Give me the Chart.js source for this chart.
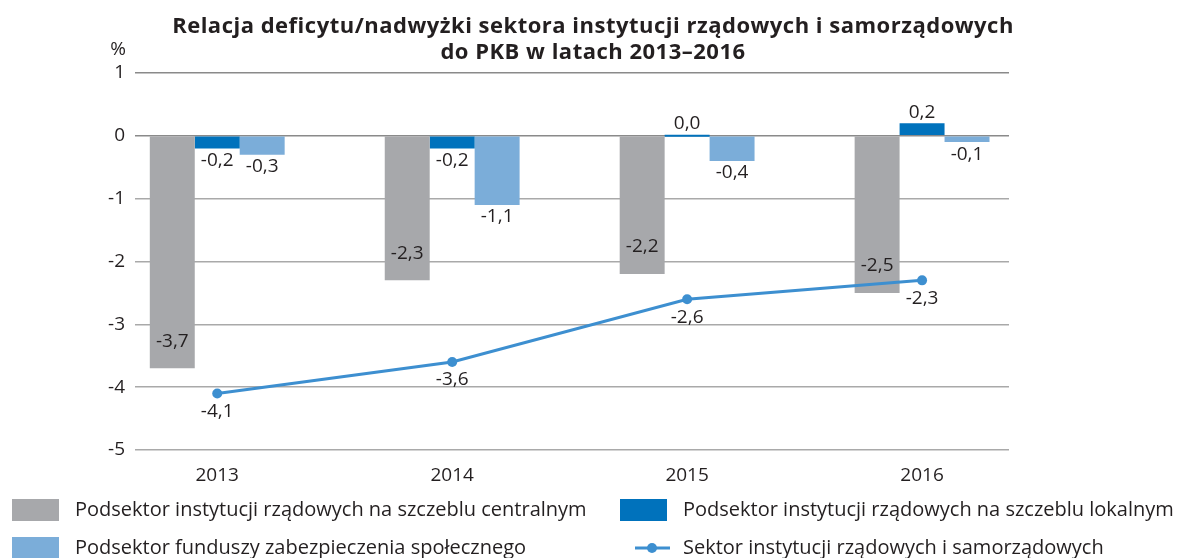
<!DOCTYPE html>
<html lang="pl">
<head>
<meta charset="UTF-8">
<title>Relacja deficytu/nadwyżki do PKB</title>
<script src="https://cdn.jsdelivr.net/npm/chart.js"></script>
<style>
  html, body { margin: 0; padding: 0; background: #fff; }
</style>
</head>
<body>
<canvas id="chart" width="1185" height="558"></canvas>
<script>
  // dane (% PKB)
  const years = ['2013', '2014', '2015', '2016'];
  const centralny = [-3.7, -2.3, -2.2, -2.5];
  const lokalny = [-0.2, -0.2, 0.0, 0.2];
  const zabezpieczenie = [-0.3, -1.1, -0.4, -0.1];
  const sektor = [-4.1, -3.6, -2.6, -2.3];

  const seriesNames = [
    'Podsektor instytucji rządowych na szczeblu centralnym',
    'Podsektor instytucji rządowych na szczeblu lokalnym',
    'Podsektor funduszy zabezpieczenia społecznego',
    'Sektor instytucji rządowych i samorządowych'
  ];
  const titleLines = [
    'Relacja deficytu/nadwyżki sektora instytucji rządowych i samorządowych',
    'do PKB w latach 2013–2016'
  ];

  const FONT = '"Open Sans", "Noto Sans", sans-serif';
  const TEXT = '#231f20';
  const colors = ['#a7a8ab', '#0072bc', '#7badd9', '#3d8fd0'];

  const toXY = arr => arr.map((v, i) => ({ x: i, y: v }));
  const fmt = v => v.toFixed(1).replace('.', ',');

  // tytuł i znak %
  const titlePlugin = {
    id: 'titleText',
    afterDraw(chart) {
      const ctx = chart.ctx;
      ctx.save();
      ctx.fillStyle = TEXT;
      ctx.textAlign = 'center';
      ctx.textBaseline = 'middle';
      ctx.font = 'bold 22px ' + FONT;
      ctx.letterSpacing = '0.5px';
      ctx.fillText(titleLines[0], 593, 27);
      ctx.fillText(titleLines[1], 593, 53);
      ctx.letterSpacing = '0px';
      ctx.font = '19px ' + FONT;
      ctx.textAlign = 'right';
      ctx.fillText('%', chart.chartArea.left - 9, 50);
      ctx.restore();
    }
  };

  // etykiety wartości
  const labelsPlugin = {
    id: 'valueLabels',
    afterDatasetsDraw(chart) {
      const ctx = chart.ctx;
      ctx.save();
      ctx.font = '19px ' + FONT;
      ctx.fillStyle = TEXT;
      ctx.textAlign = 'center';
      ctx.textBaseline = 'middle';
      chart.data.datasets.forEach((ds, i) => {
        const meta = chart.getDatasetMeta(i);
        meta.data.forEach((el, j) => {
          const v = ds.data[j].y;
          let y;
          if (ds.type === 'line') y = el.y + 18;
          else if (i === 0) y = el.y - 27;
          else if (v < 0) y = el.y + 12;
          else y = Math.min(el.y, el.base) - 11;
          ctx.fillText(fmt(v), el.x, y);
        });
      });
      ctx.restore();
    }
  };

  // legenda w dwóch kolumnach
  const legendPlugin = {
    id: 'twoColLegend',
    afterDraw(chart) {
      const ctx = chart.ctx;
      const cols = [12, 620];
      const rows = [510, 548];
      // wiersz 1: centralny, lokalny; wiersz 2: zabezpieczenie, sektor
      const items = [
        { ds: 0, col: 0, row: 0 },
        { ds: 1, col: 1, row: 0 },
        { ds: 2, col: 0, row: 1 },
        { ds: 3, col: 1, row: 1 }
      ];
      ctx.save();
      ctx.font = '20px ' + FONT;
      ctx.textBaseline = 'middle';
      ctx.textAlign = 'left';
      items.forEach(it => {
        const ds = chart.data.datasets[it.ds];
        const x = cols[it.col];
        const y = rows[it.row];
        if (ds.type === 'line') {
          ctx.strokeStyle = ds.borderColor;
          ctx.lineWidth = 3;
          ctx.beginPath();
          ctx.moveTo(x + 15, y);
          ctx.lineTo(x + 50, y);
          ctx.stroke();
          ctx.fillStyle = ds.borderColor;
          ctx.beginPath();
          ctx.arc(x + 32, y, 5, 0, Math.PI * 2);
          ctx.fill();
        } else {
          ctx.fillStyle = ds.backgroundColor;
          ctx.fillRect(x, y - 11, 47, 22);
        }
        ctx.fillStyle = TEXT;
        ctx.fillText(ds.label, x + 63, y);
      });
      ctx.restore();
    }
  };

  const barCommon = {
    type: 'bar',
    categoryPercentage: 0.574,
    barPercentage: 1,
    order: 2
  };

  new Chart(document.getElementById('chart'), {
    data: {
      datasets: [
        { ...barCommon, label: seriesNames[0], data: toXY(centralny), backgroundColor: colors[0] },
        { ...barCommon, label: seriesNames[1], data: toXY(lokalny), backgroundColor: colors[1], minBarLength: 2 },
        { ...barCommon, label: seriesNames[2], data: toXY(zabezpieczenie), backgroundColor: colors[2] },
        {
          type: 'line',
          label: seriesNames[3],
          data: toXY(sektor),
          borderColor: colors[3],
          backgroundColor: colors[3],
          borderWidth: 3,
          pointRadius: 5,
          pointBackgroundColor: colors[3],
          pointBorderWidth: 0,
          tension: 0,
          order: 1
        }
      ]
    },
    options: {
      responsive: false,
      animation: false,
      layout: { padding: { top: 73, right: 176, bottom: 0, left: 0 } },
      plugins: {
        legend: { display: false },
        title: { display: false },
        tooltip: { enabled: false }
      },
      scales: {
        x: {
          type: 'linear',
          min: -0.35,
          max: 3.37,
          offset: false,
          afterBuildTicks: axis => { axis.ticks = years.map((_, i) => ({ value: i })); },
          afterFit: axis => { axis.height = 108; },
          grid: { display: false, offset: false },
          border: { display: false },
          ticks: {
            padding: 6,
            color: TEXT,
            font: { family: FONT, size: 19 },
            callback: v => years[v]
          }
        },
        y: {
          min: -5,
          max: 1,
          afterFit: axis => { axis.width = 135; },
          border: { display: false },
          grid: {
            color: ctx => (ctx.tick && (ctx.tick.value === 1 || ctx.tick.value === 0)) ? '#8a8a8a' : '#a9a9a9',
            lineWidth: 1.5,
            drawTicks: false
          },
          ticks: {
            stepSize: 1,
            padding: 10,
            color: TEXT,
            font: { family: FONT, size: 19 }
          }
        }
      }
    },
    plugins: [titlePlugin, labelsPlugin, legendPlugin]
  });
</script>
</body>
</html>
